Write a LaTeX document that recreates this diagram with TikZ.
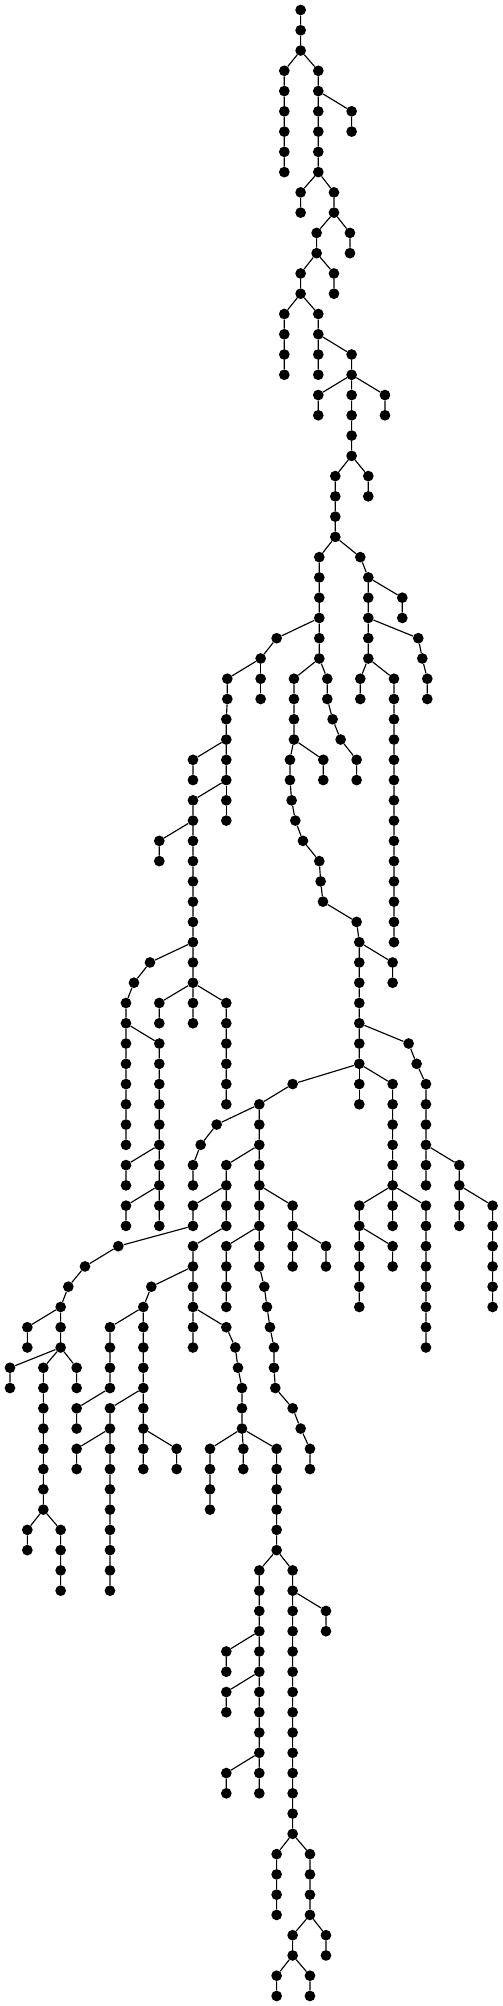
\documentclass[tikz,border=0pt]{standalone}
\usepackage{tikz}

\begin{document}
\begin{tikzpicture}[
                x=0.3333pt, y=-20.265pt,
                dot/.style={circle, fill=black, inner sep=0pt, minimum size=10.7pt},
                link/.style={line width=1.15pt, black}
            ]
            \useasboundingbox (0,-0.4935) rectangle (1509,98.4955);

            % Top of the tree
            \node[dot] (n0x902) at (902,0) {}; \node[dot] (n1x902) at (902,1) {}; \node[dot] (n2x902) at (902,2) {};
            \node[dot] (n3x853) at (853,3) {}; \node[dot] (n4x853) at (853,4) {}; \node[dot] (n5x853) at (853,5) {};
            \node[dot] (n6x853) at (853,6) {}; \node[dot] (n7x853) at (853,7) {}; \node[dot] (n8x853) at (853,8) {};
            \node[dot] (n3x955) at (955,3) {}; \node[dot] (n4x955) at (955,4) {}; \node[dot] (n5x955) at (955,5) {};
            \node[dot] (n6x955) at (955,6) {}; \node[dot] (n7x955) at (955,7) {}; \node[dot] (n8x955) at (955,8) {};
            \node[dot] (n9x902) at (902,9) {}; \node[dot] (n10x902) at (902,10) {};
            \node[dot] (n5x1055) at (1055,5) {}; \node[dot] (n6x1055) at (1055,6) {};
            \node[dot] (n9x1002) at (1002,9) {}; \node[dot] (n10x1002) at (1002,10) {};
            \node[dot] (n11x950) at (950,11) {}; \node[dot] (n12x950) at (950,12) {};
            \node[dot] (n13x902) at (902,13) {}; \node[dot] (n14x902) at (902,14) {};
            \node[dot] (n15x853) at (853,15) {}; \node[dot] (n16x853) at (853,16) {};
            \node[dot] (n17x853) at (853,17) {}; \node[dot] (n18x853) at (853,18) {};
            \node[dot] (n11x1050) at (1050,11) {}; \node[dot] (n12x1050) at (1050,12) {};
            \node[dot] (n13x1002) at (1002,13) {}; \node[dot] (n14x1002) at (1002,14) {};
            \node[dot] (n15x955) at (955,15) {}; \node[dot] (n16x955) at (955,16) {};
            \node[dot] (n17x955) at (955,17) {}; \node[dot] (n18x955) at (955,18) {};
            \node[dot] (n19x955) at (955,19) {}; \node[dot] (n20x955) at (955,20) {};
            \node[dot] (n19x1155) at (1155,19) {}; \node[dot] (n20x1155) at (1155,20) {};

            % Main trunk
            \node[dot] (n17x1055) at (1055,17) {}; \node[dot] (n18x1055) at (1055,18) {}; \node[dot] (n19x1055) at (1055,19) {};
            \node[dot] (n20x1055) at (1055,20) {}; \node[dot] (n21x1055) at (1055,21) {}; \node[dot] (n22x1055) at (1055,22) {};
            \node[dot] (n23x1006) at (1006,23) {}; \node[dot] (n24x1006) at (1006,24) {}; \node[dot] (n25x1006) at (1006,25) {};
            \node[dot] (n26x1006) at (1006,26) {};
            \node[dot] (n27x958) at (958,27) {}; \node[dot] (n28x958) at (958,28) {}; \node[dot] (n29x958) at (958,29) {};
            \node[dot] (n30x958) at (958,30) {}; \node[dot] (n31x958) at (958,31) {}; \node[dot] (n32x958) at (958,32) {};
            \node[dot] (n33x882) at (882,33) {}; \node[dot] (n34x882) at (882,34) {}; \node[dot] (n35x882) at (882,35) {};
            \node[dot] (n36x882) at (882,36) {}; \node[dot] (n37x870) at (870,37) {}; \node[dot] (n38x870) at (870,38) {};
            \node[dot] (n39x875) at (875,39) {}; \node[dot] (n40x886) at (886,40) {}; \node[dot] (n41x909) at (909,41) {};
            \node[dot] (n42x958) at (958,42) {}; \node[dot] (n43x962) at (962,43) {}; \node[dot] (n44x969) at (969,44) {};
            \node[dot] (n45x1070) at (1070,45) {}; \node[dot] (n46x1078) at (1078,46) {}; \node[dot] (n47x1078) at (1078,47) {};
            \node[dot] (n48x1078) at (1078,48) {}; \node[dot] (n49x1078) at (1078,49) {}; \node[dot] (n50x1078) at (1078,50) {};
            \node[dot] (n51x1078) at (1078,51) {}; \node[dot] (n52x1078) at (1078,52) {}; \node[dot] (n53x878) at (878,53) {};
            \node[dot] (n54x778) at (778,54) {}; \node[dot] (n55x778) at (778,55) {}; \node[dot] (n56x778) at (778,56) {};
            \node[dot] (n57x778) at (778,57) {}; \node[dot] (n58x778) at (778,58) {}; \node[dot] (n59x778) at (778,59) {};
            \node[dot] (n60x778) at (778,60) {}; \node[dot] (n61x778) at (778,61) {}; \node[dot] (n62x778) at (778,62) {};
            \node[dot] (n63x793) at (793,63) {}; \node[dot] (n64x801) at (801,64) {}; \node[dot] (n65x810) at (810,65) {};
            \node[dot] (n66x822) at (822,66) {}; \node[dot] (n67x822) at (822,67) {}; \node[dot] (n68x826) at (826,68) {};
            \node[dot] (n69x878) at (878,69) {}; \node[dot] (n70x902) at (902,70) {}; \node[dot] (n71x930) at (930,71) {};
            \node[dot] (n72x930) at (930,72) {};

            % Right arm
            \node[dot] (n23x1105) at (1105,23) {}; \node[dot] (n24x1105) at (1105,24) {};
            \node[dot] (n27x1081) at (1081,27) {}; \node[dot] (n28x1105) at (1105,28) {}; \node[dot] (n29x1105) at (1105,29) {};
            \node[dot] (n30x1105) at (1105,30) {}; \node[dot] (n31x1105) at (1105,31) {}; \node[dot] (n32x1105) at (1105,32) {};
            \node[dot] (n33x1182) at (1182,33) {}; \node[dot] (n34x1182) at (1182,34) {}; \node[dot] (n35x1182) at (1182,35) {};
            \node[dot] (n36x1182) at (1182,36) {}; \node[dot] (n37x1182) at (1182,37) {}; \node[dot] (n38x1182) at (1182,38) {};
            \node[dot] (n39x1182) at (1182,39) {}; \node[dot] (n40x1182) at (1182,40) {}; \node[dot] (n41x1182) at (1182,41) {};
            \node[dot] (n42x1182) at (1182,42) {}; \node[dot] (n43x1182) at (1182,43) {}; \node[dot] (n44x1182) at (1182,44) {};
            \node[dot] (n45x1182) at (1182,45) {}; \node[dot] (n46x1182) at (1182,46) {};
            \node[dot] (n29x1207) at (1207,29) {}; \node[dot] (n30x1207) at (1207,30) {};
            \node[dot] (n31x1255) at (1255,31) {}; \node[dot] (n32x1267) at (1267,32) {};
            \node[dot] (n33x1282) at (1282,33) {}; \node[dot] (n34x1282) at (1282,34) {};
            \node[dot] (n33x1081) at (1081,33) {}; \node[dot] (n34x1081) at (1081,34) {};

            % Left arm from the trunk
            \node[dot] (n31x830) at (830,31) {}; \node[dot] (n32x782) at (782,32) {}; \node[dot] (n33x682) at (682,33) {};
            \node[dot] (n34x682) at (682,34) {}; \node[dot] (n35x679) at (679,35) {}; \node[dot] (n36x679) at (679,36) {};
            \node[dot] (n37x679) at (679,37) {}; \node[dot] (n38x679) at (679,38) {};
            \node[dot] (n39x579) at (579,39) {}; \node[dot] (n40x579) at (579,40) {}; \node[dot] (n41x579) at (579,41) {};
            \node[dot] (n42x579) at (579,42) {}; \node[dot] (n43x579) at (579,43) {}; \node[dot] (n44x579) at (579,44) {};
            \node[dot] (n45x579) at (579,45) {}; \node[dot] (n46x579) at (579,46) {}; \node[dot] (n47x579) at (579,47) {};
            \node[dot] (n48x579) at (579,48) {}; \node[dot] (n49x579) at (579,49) {}; \node[dot] (n50x579) at (579,50) {};
            \node[dot] (n33x782) at (782,33) {}; \node[dot] (n34x782) at (782,34) {};
            \node[dot] (n37x579) at (579,37) {}; \node[dot] (n38x579) at (579,38) {};
            \node[dot] (n39x679) at (679,39) {}; \node[dot] (n40x679) at (679,40) {};
            \node[dot] (n41x478) at (478,41) {}; \node[dot] (n42x478) at (478,42) {};
            \node[dot] (n47x450) at (450,47) {}; \node[dot] (n48x402) at (402,48) {};
            \node[dot] (n49x378) at (378,49) {}; \node[dot] (n50x378) at (378,50) {}; \node[dot] (n51x378) at (378,51) {};
            \node[dot] (n52x378) at (378,52) {}; \node[dot] (n53x378) at (378,53) {}; \node[dot] (n54x378) at (378,54) {};
            \node[dot] (n55x378) at (378,55) {}; \node[dot] (n56x378) at (378,56) {};
            \node[dot] (n49x478) at (478,49) {}; \node[dot] (n50x478) at (478,50) {};
            \node[dot] (n49x679) at (679,49) {}; \node[dot] (n50x679) at (679,50) {}; \node[dot] (n51x679) at (679,51) {};
            \node[dot] (n52x679) at (679,52) {}; \node[dot] (n53x679) at (679,53) {}; \node[dot] (n54x679) at (679,54) {};
            \node[dot] (n51x478) at (478,51) {}; \node[dot] (n52x478) at (478,52) {}; \node[dot] (n53x478) at (478,53) {};
            \node[dot] (n54x478) at (478,54) {}; \node[dot] (n55x478) at (478,55) {}; \node[dot] (n56x478) at (478,56) {};
            \node[dot] (n57x478) at (478,57) {}; \node[dot] (n58x478) at (478,58) {}; \node[dot] (n59x478) at (478,59) {};
            \node[dot] (n60x478) at (478,60) {};
            \node[dot] (n57x378) at (378,57) {}; \node[dot] (n58x378) at (378,58) {};
            \node[dot] (n59x378) at (378,59) {}; \node[dot] (n60x378) at (378,60) {};

            % Short branches of the trunk
            \node[dot] (n33x982) at (982,33) {}; \node[dot] (n34x982) at (982,34) {}; \node[dot] (n35x998) at (998,35) {};
            \node[dot] (n36x1022) at (1022,36) {}; \node[dot] (n37x1070) at (1070,37) {}; \node[dot] (n38x1070) at (1070,38) {};
            \node[dot] (n37x970) at (970,37) {}; \node[dot] (n38x970) at (970,38) {};
            \node[dot] (n47x1178) at (1178,47) {}; \node[dot] (n48x1178) at (1178,48) {};
            \node[dot] (n51x1226) at (1226,51) {}; \node[dot] (n52x1250) at (1250,52) {};
            \node[dot] (n53x1278) at (1278,53) {}; \node[dot] (n54x1278) at (1278,54) {}; \node[dot] (n55x1278) at (1278,55) {};
            \node[dot] (n56x1278) at (1278,56) {}; \node[dot] (n57x1278) at (1278,57) {}; \node[dot] (n58x1278) at (1278,58) {};
            \node[dot] (n53x1078) at (1078,53) {}; \node[dot] (n54x1078) at (1078,54) {};
            \node[dot] (n53x1178) at (1178,53) {}; \node[dot] (n54x1178) at (1178,54) {}; \node[dot] (n55x1178) at (1178,55) {};
            \node[dot] (n56x1178) at (1178,56) {}; \node[dot] (n57x1178) at (1178,57) {}; \node[dot] (n58x1178) at (1178,58) {};
            \node[dot] (n59x1178) at (1178,59) {}; \node[dot] (n60x1178) at (1178,60) {};
            \node[dot] (n57x1378) at (1378,57) {}; \node[dot] (n58x1378) at (1378,58) {};
            \node[dot] (n59x1378) at (1378,59) {}; \node[dot] (n60x1378) at (1378,60) {};
            \node[dot] (n59x1478) at (1478,59) {}; \node[dot] (n60x1478) at (1478,60) {}; \node[dot] (n61x1478) at (1478,61) {};
            \node[dot] (n62x1478) at (1478,62) {}; \node[dot] (n63x1478) at (1478,63) {}; \node[dot] (n64x1478) at (1478,64) {};
            \node[dot] (n59x1078) at (1078,59) {}; \node[dot] (n60x1078) at (1078,60) {}; \node[dot] (n61x1078) at (1078,61) {};
            \node[dot] (n62x1078) at (1078,62) {}; \node[dot] (n63x1078) at (1078,63) {}; \node[dot] (n64x1078) at (1078,64) {};
            \node[dot] (n61x1178) at (1178,61) {}; \node[dot] (n62x1178) at (1178,62) {};
            \node[dot] (n59x1278) at (1278,59) {}; \node[dot] (n60x1278) at (1278,60) {}; \node[dot] (n61x1278) at (1278,61) {};
            \node[dot] (n62x1278) at (1278,62) {}; \node[dot] (n63x1278) at (1278,63) {}; \node[dot] (n64x1278) at (1278,64) {};
            \node[dot] (n65x1278) at (1278,65) {}; \node[dot] (n66x1278) at (1278,66) {};

            % Lower left part
            \node[dot] (n55x650) at (650,55) {}; \node[dot] (n56x602) at (602,56) {};
            \node[dot] (n57x579) at (579,57) {}; \node[dot] (n58x579) at (579,58) {};
            \node[dot] (n57x679) at (679,57) {}; \node[dot] (n58x679) at (679,58) {}; \node[dot] (n59x679) at (679,59) {};
            \node[dot] (n60x679) at (679,60) {};
            \node[dot] (n61x579) at (579,61) {}; \node[dot] (n62x579) at (579,62) {}; \node[dot] (n63x579) at (579,63) {};
            \node[dot] (n64x579) at (579,64) {}; \node[dot] (n65x579) at (579,65) {}; \node[dot] (n66x579) at (579,66) {};
            \node[dot] (n59x579) at (579,59) {}; \node[dot] (n60x579) at (579,60) {};
            \node[dot] (n61x355) at (355,61) {}; \node[dot] (n62x255) at (255,62) {}; \node[dot] (n63x205) at (205,63) {};
            \node[dot] (n64x182) at (182,64) {}; \node[dot] (n65x182) at (182,65) {}; \node[dot] (n66x182) at (182,66) {};
            \node[dot] (n67x130) at (130,67) {}; \node[dot] (n68x130) at (130,68) {}; \node[dot] (n69x130) at (130,69) {};
            \node[dot] (n70x130) at (130,70) {}; \node[dot] (n71x130) at (130,71) {}; \node[dot] (n72x130) at (130,72) {};
            \node[dot] (n73x130) at (130,73) {}; \node[dot] (n74x130) at (130,74) {};
            \node[dot] (n75x182) at (182,75) {}; \node[dot] (n76x182) at (182,76) {};
            \node[dot] (n77x182) at (182,77) {}; \node[dot] (n78x182) at (182,78) {};
            \node[dot] (n65x82) at (82,65) {}; \node[dot] (n66x82) at (82,66) {};
            \node[dot] (n67x30) at (30,67) {}; \node[dot] (n68x30) at (30,68) {};
            \node[dot] (n67x230) at (230,67) {}; \node[dot] (n68x230) at (230,68) {};
            \node[dot] (n75x82) at (82,75) {}; \node[dot] (n76x82) at (82,76) {};
            \node[dot] (n59x878) at (878,59) {}; \node[dot] (n60x878) at (878,60) {};
            \node[dot] (n61x878) at (878,61) {}; \node[dot] (n62x878) at (878,62) {};
            \node[dot] (n61x978) at (978,61) {}; \node[dot] (n62x978) at (978,62) {};
            \node[dot] (n61x679) at (679,61) {}; \node[dot] (n62x679) at (679,62) {};
            \node[dot] (n63x679) at (679,63) {}; \node[dot] (n64x679) at (679,64) {};
            \node[dot] (n63x454) at (454,63) {}; \node[dot] (n64x430) at (430,64) {}; \node[dot] (n65x430) at (430,65) {};
            \node[dot] (n66x430) at (430,66) {}; \node[dot] (n67x430) at (430,67) {}; \node[dot] (n68x430) at (430,68) {};
            \node[dot] (n69x430) at (430,69) {}; \node[dot] (n70x430) at (430,70) {}; \node[dot] (n71x430) at (430,71) {};
            \node[dot] (n72x430) at (430,72) {};
            \node[dot] (n65x330) at (330,65) {}; \node[dot] (n66x330) at (330,66) {};
            \node[dot] (n67x330) at (330,67) {}; \node[dot] (n68x330) at (330,68) {};
            \node[dot] (n69x230) at (230,69) {}; \node[dot] (n70x230) at (230,70) {};
            \node[dot] (n69x330) at (330,69) {}; \node[dot] (n70x330) at (330,70) {}; \node[dot] (n71x330) at (330,71) {};
            \node[dot] (n72x330) at (330,72) {}; \node[dot] (n73x330) at (330,73) {}; \node[dot] (n74x330) at (330,74) {};
            \node[dot] (n75x330) at (330,75) {}; \node[dot] (n76x330) at (330,76) {}; \node[dot] (n77x330) at (330,77) {};
            \node[dot] (n78x330) at (330,78) {};
            \node[dot] (n71x230) at (230,71) {}; \node[dot] (n72x230) at (230,72) {};
            \node[dot] (n71x530) at (530,71) {}; \node[dot] (n72x530) at (530,72) {};

            % Bottom part
            \node[dot] (n65x679) at (679,65) {}; \node[dot] (n66x706) at (706,66) {}; \node[dot] (n67x714) at (714,67) {};
            \node[dot] (n68x726) at (726,68) {}; \node[dot] (n69x726) at (726,69) {}; \node[dot] (n70x726) at (726,70) {};
            \node[dot] (n71x730) at (730,71) {}; \node[dot] (n72x730) at (730,72) {};
            \node[dot] (n71x630) at (630,71) {}; \node[dot] (n72x630) at (630,72) {};
            \node[dot] (n73x630) at (630,73) {}; \node[dot] (n74x630) at (630,74) {};
            \node[dot] (n71x830) at (830,71) {}; \node[dot] (n72x830) at (830,72) {}; \node[dot] (n73x830) at (830,73) {};
            \node[dot] (n74x830) at (830,74) {}; \node[dot] (n75x830) at (830,75) {}; \node[dot] (n76x830) at (830,76) {};
            \node[dot] (n77x878) at (878,77) {}; \node[dot] (n78x878) at (878,78) {}; \node[dot] (n79x878) at (878,79) {};
            \node[dot] (n80x878) at (878,80) {}; \node[dot] (n81x878) at (878,81) {}; \node[dot] (n82x878) at (878,82) {};
            \node[dot] (n83x878) at (878,83) {}; \node[dot] (n84x878) at (878,84) {}; \node[dot] (n85x878) at (878,85) {};
            \node[dot] (n86x878) at (878,86) {}; \node[dot] (n87x878) at (878,87) {}; \node[dot] (n88x878) at (878,88) {};
            \node[dot] (n89x878) at (878,89) {}; \node[dot] (n90x878) at (878,90) {};
            \node[dot] (n91x930) at (930,91) {}; \node[dot] (n92x930) at (930,92) {};
            \node[dot] (n93x930) at (930,93) {}; \node[dot] (n94x930) at (930,94) {};
            \node[dot] (n95x878) at (878,95) {}; \node[dot] (n96x878) at (878,96) {};
            \node[dot] (n97x930) at (930,97) {}; \node[dot] (n98x930) at (930,98) {};
            \node[dot] (n77x778) at (778,77) {}; \node[dot] (n78x778) at (778,78) {}; \node[dot] (n79x778) at (778,79) {};
            \node[dot] (n80x778) at (778,80) {}; \node[dot] (n81x778) at (778,81) {}; \node[dot] (n82x778) at (778,82) {};
            \node[dot] (n83x778) at (778,83) {}; \node[dot] (n84x778) at (778,84) {}; \node[dot] (n85x778) at (778,85) {};
            \node[dot] (n86x778) at (778,86) {}; \node[dot] (n87x778) at (778,87) {}; \node[dot] (n88x778) at (778,88) {};
            \node[dot] (n81x679) at (679,81) {}; \node[dot] (n82x679) at (679,82) {};
            \node[dot] (n83x679) at (679,83) {}; \node[dot] (n84x679) at (679,84) {};
            \node[dot] (n87x679) at (679,87) {}; \node[dot] (n88x679) at (679,88) {};
            \node[dot] (n79x978) at (978,79) {}; \node[dot] (n80x978) at (978,80) {};
            \node[dot] (n91x830) at (830,91) {}; \node[dot] (n92x830) at (830,92) {};
            \node[dot] (n93x830) at (830,93) {}; \node[dot] (n94x830) at (830,94) {};
            \node[dot] (n95x978) at (978,95) {}; \node[dot] (n96x978) at (978,96) {};
            \node[dot] (n97x830) at (830,97) {}; \node[dot] (n98x830) at (830,98) {};

            % Edges
            \draw[link] (n0x902) -- (n1x902) -- (n2x902) -- (n3x853) -- (n4x853) -- (n5x853) -- (n6x853) -- (n7x853) -- (n8x853);
            \draw[link] (n2x902) -- (n3x955) -- (n4x955) -- (n5x955) -- (n6x955) -- (n7x955) -- (n8x955) -- (n9x902) -- (n10x902);
            \draw[link] (n4x955) -- (n5x1055) -- (n6x1055);
            \draw[link] (n8x955) -- (n9x1002) -- (n10x1002) -- (n11x950) -- (n12x950) -- (n13x902) -- (n14x902) -- (n15x853) -- (n16x853) -- (n17x853) -- (n18x853);
            \draw[link] (n10x1002) -- (n11x1050) -- (n12x1050);
            \draw[link] (n12x950) -- (n13x1002) -- (n14x1002);
            \draw[link] (n14x902) -- (n15x955) -- (n16x955) -- (n17x955) -- (n18x955);
            \draw[link] (n16x955) -- (n17x1055) -- (n18x1055) -- (n19x1055) -- (n20x1055) -- (n21x1055) -- (n22x1055) -- (n23x1006) -- (n24x1006) -- (n25x1006) -- (n26x1006)
                -- (n27x958) -- (n28x958) -- (n29x958) -- (n30x958) -- (n31x958) -- (n32x958) -- (n33x882) -- (n34x882) -- (n35x882) -- (n36x882) -- (n37x870) -- (n38x870)
                -- (n39x875) -- (n40x886) -- (n41x909) -- (n42x958) -- (n43x962) -- (n44x969) -- (n45x1070) -- (n46x1078) -- (n47x1078) -- (n48x1078) -- (n49x1078)
                -- (n50x1078) -- (n51x1078) -- (n52x1078) -- (n53x878) -- (n54x778) -- (n55x778) -- (n56x778) -- (n57x778) -- (n58x778) -- (n59x778) -- (n60x778)
                -- (n61x778) -- (n62x778) -- (n63x793) -- (n64x801) -- (n65x810) -- (n66x822) -- (n67x822) -- (n68x826) -- (n69x878) -- (n70x902) -- (n71x930) -- (n72x930);
            \draw[link] (n18x1055) -- (n19x955) -- (n20x955);
            \draw[link] (n18x1055) -- (n19x1155) -- (n20x1155);
            \draw[link] (n22x1055) -- (n23x1105) -- (n24x1105);
            \draw[link] (n26x1006) -- (n27x1081) -- (n28x1105) -- (n29x1105) -- (n30x1105) -- (n31x1105) -- (n32x1105) -- (n33x1182) -- (n34x1182) -- (n35x1182) -- (n36x1182)
                -- (n37x1182) -- (n38x1182) -- (n39x1182) -- (n40x1182) -- (n41x1182) -- (n42x1182) -- (n43x1182) -- (n44x1182) -- (n45x1182) -- (n46x1182);
            \draw[link] (n28x1105) -- (n29x1207) -- (n30x1207);
            \draw[link] (n30x1105) -- (n31x1255) -- (n32x1267) -- (n33x1282) -- (n34x1282);
            \draw[link] (n32x1105) -- (n33x1081) -- (n34x1081);
            \draw[link] (n30x958) -- (n31x830) -- (n32x782) -- (n33x682) -- (n34x682) -- (n35x679) -- (n36x679) -- (n37x679) -- (n38x679) -- (n39x579) -- (n40x579) -- (n41x579)
                -- (n42x579) -- (n43x579) -- (n44x579) -- (n45x579) -- (n46x579) -- (n47x579) -- (n48x579) -- (n49x579) -- (n50x579);
            \draw[link] (n32x782) -- (n33x782) -- (n34x782);
            \draw[link] (n36x679) -- (n37x579) -- (n38x579);
            \draw[link] (n38x679) -- (n39x679) -- (n40x679);
            \draw[link] (n40x579) -- (n41x478) -- (n42x478);
            \draw[link] (n46x579) -- (n47x450) -- (n48x402) -- (n49x378) -- (n50x378) -- (n51x378) -- (n52x378) -- (n53x378) -- (n54x378) -- (n55x378) -- (n56x378);
            \draw[link] (n48x579) -- (n49x478) -- (n50x478);
            \draw[link] (n48x579) -- (n49x679) -- (n50x679) -- (n51x679) -- (n52x679) -- (n53x679) -- (n54x679);
            \draw[link] (n50x378) -- (n51x478) -- (n52x478) -- (n53x478) -- (n54x478) -- (n55x478) -- (n56x478) -- (n57x478) -- (n58x478) -- (n59x478) -- (n60x478);
            \draw[link] (n56x478) -- (n57x378) -- (n58x378);
            \draw[link] (n58x478) -- (n59x378) -- (n60x378);
            \draw[link] (n32x958) -- (n33x982) -- (n34x982) -- (n35x998) -- (n36x1022) -- (n37x1070) -- (n38x1070);
            \draw[link] (n36x882) -- (n37x970) -- (n38x970);
            \draw[link] (n46x1078) -- (n47x1178) -- (n48x1178);
            \draw[link] (n50x1078) -- (n51x1226) -- (n52x1250) -- (n53x1278) -- (n54x1278) -- (n55x1278) -- (n56x1278) -- (n57x1278) -- (n58x1278);
            \draw[link] (n52x1078) -- (n53x1078) -- (n54x1078);
            \draw[link] (n52x1078) -- (n53x1178) -- (n54x1178) -- (n55x1178) -- (n56x1178) -- (n57x1178) -- (n58x1178) -- (n59x1178) -- (n60x1178);
            \draw[link] (n56x1278) -- (n57x1378) -- (n58x1378) -- (n59x1378) -- (n60x1378);
            \draw[link] (n58x1378) -- (n59x1478) -- (n60x1478) -- (n61x1478) -- (n62x1478) -- (n63x1478) -- (n64x1478);
            \draw[link] (n58x1178) -- (n59x1078) -- (n60x1078) -- (n61x1078) -- (n62x1078) -- (n63x1078) -- (n64x1078);
            \draw[link] (n60x1078) -- (n61x1178) -- (n62x1178);
            \draw[link] (n58x1178) -- (n59x1278) -- (n60x1278) -- (n61x1278) -- (n62x1278) -- (n63x1278) -- (n64x1278) -- (n65x1278) -- (n66x1278);
            \draw[link] (n54x778) -- (n55x650) -- (n56x602) -- (n57x579) -- (n58x579);
            \draw[link] (n56x778) -- (n57x679) -- (n58x679) -- (n59x679) -- (n60x679) -- (n61x579) -- (n62x579) -- (n63x579) -- (n64x579) -- (n65x579) -- (n66x579);
            \draw[link] (n58x679) -- (n59x579) -- (n60x579) -- (n61x355) -- (n62x255) -- (n63x205) -- (n64x182) -- (n65x182) -- (n66x182) -- (n67x130) -- (n68x130)
                -- (n69x130) -- (n70x130) -- (n71x130) -- (n72x130) -- (n73x130) -- (n74x130) -- (n75x182) -- (n76x182) -- (n77x182) -- (n78x182);
            \draw[link] (n64x182) -- (n65x82) -- (n66x82);
            \draw[link] (n66x182) -- (n67x30) -- (n68x30);
            \draw[link] (n66x182) -- (n67x230) -- (n68x230);
            \draw[link] (n74x130) -- (n75x82) -- (n76x82);
            \draw[link] (n58x778) -- (n59x878) -- (n60x878) -- (n61x878) -- (n62x878);
            \draw[link] (n60x878) -- (n61x978) -- (n62x978);
            \draw[link] (n60x778) -- (n61x679) -- (n62x679) -- (n63x679) -- (n64x679);
            \draw[link] (n62x579) -- (n63x454) -- (n64x430) -- (n65x430) -- (n66x430) -- (n67x430) -- (n68x430) -- (n69x430) -- (n70x430) -- (n71x430) -- (n72x430);
            \draw[link] (n64x430) -- (n65x330) -- (n66x330) -- (n67x330) -- (n68x330) -- (n69x230) -- (n70x230);
            \draw[link] (n68x430) -- (n69x330) -- (n70x330) -- (n71x330) -- (n72x330) -- (n73x330) -- (n74x330) -- (n75x330) -- (n76x330) -- (n77x330) -- (n78x330);
            \draw[link] (n70x330) -- (n71x230) -- (n72x230);
            \draw[link] (n70x430) -- (n71x530) -- (n72x530);
            \draw[link] (n64x579) -- (n65x679) -- (n66x706) -- (n67x714) -- (n68x726) -- (n69x726) -- (n70x726) -- (n71x730) -- (n72x730);
            \draw[link] (n70x726) -- (n71x630) -- (n72x630) -- (n73x630) -- (n74x630);
            \draw[link] (n70x726) -- (n71x830) -- (n72x830) -- (n73x830) -- (n74x830) -- (n75x830) -- (n76x830) -- (n77x878) -- (n78x878) -- (n79x878) -- (n80x878)
                -- (n81x878) -- (n82x878) -- (n83x878) -- (n84x878) -- (n85x878) -- (n86x878) -- (n87x878) -- (n88x878) -- (n89x878) -- (n90x878)
                -- (n91x930) -- (n92x930) -- (n93x930) -- (n94x930) -- (n95x878) -- (n96x878) -- (n97x930) -- (n98x930);
            \draw[link] (n76x830) -- (n77x778) -- (n78x778) -- (n79x778) -- (n80x778) -- (n81x778) -- (n82x778) -- (n83x778) -- (n84x778) -- (n85x778) -- (n86x778) -- (n87x778) -- (n88x778);
            \draw[link] (n80x778) -- (n81x679) -- (n82x679);
            \draw[link] (n82x778) -- (n83x679) -- (n84x679);
            \draw[link] (n86x778) -- (n87x679) -- (n88x679);
            \draw[link] (n78x878) -- (n79x978) -- (n80x978);
            \draw[link] (n90x878) -- (n91x830) -- (n92x830) -- (n93x830) -- (n94x830);
            \draw[link] (n94x930) -- (n95x978) -- (n96x978);
            \draw[link] (n96x878) -- (n97x830) -- (n98x830);
\end{tikzpicture}
\end{document}
